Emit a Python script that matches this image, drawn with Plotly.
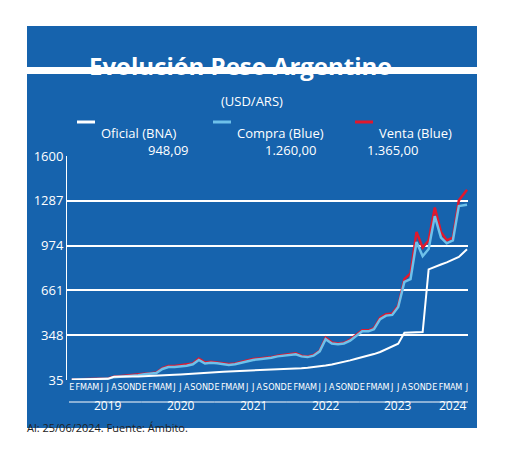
import plotly.graph_objects as go

# Monthly values (USD/ARS), Jan 2019 .. Jun 2024
fechas = [f"{y}-{m:02d}-15" for y in range(2019, 2025) for m in range(1, 13)][:66]
fechas[-1] = "2024-06-25"

oficial = [38, 39, 43, 44, 45, 43, 43, 58, 57, 60, 60, 60,
           61, 62, 64, 67, 69, 71, 73, 75, 77, 80, 83, 85,
           89, 92, 95, 97, 98, 100, 101, 102, 103, 104, 106, 108,
           110, 113, 117, 121, 125, 131, 137, 144, 152, 162, 172, 183,
           193, 204, 216, 231, 249, 269, 289, 365, 365, 365, 370, 808,
           827, 842, 857, 876, 895, 948]
compra = [37, 38, 41, 43, 44, 42, 43, 55, 58, 63, 63, 68,
          75, 78, 84, 112, 125, 126, 131, 134, 145, 175, 150, 155,
          152, 146, 140, 145, 155, 165, 175, 180, 183, 190, 200, 205,
          208, 215, 200, 195, 205, 235, 320, 290, 285, 290, 310, 340,
          375, 375, 390, 460, 485, 490, 545, 720, 740, 1000, 900, 950,
          1180, 1030, 990, 1010, 1250, 1260]
venta = [39, 40, 43, 45, 46, 44, 45, 58, 61, 67, 67, 72,
         78, 82, 88, 118, 132, 133, 138, 141, 150, 185, 158, 163,
         158, 152, 146, 150, 160, 170, 182, 186, 188, 195, 205, 210,
         215, 222, 205, 200, 210, 240, 330, 298, 290, 295, 318, 348,
         382, 382, 397, 470, 495, 500, 555, 740, 780, 1070, 960, 1010,
         1240, 1070, 1010, 1030, 1290, 1365]

meses = list("EFMAMJJASOND") * 5 + list("EFMAMJ")
anios = ["2019", "2020", "2021", "2022", "2023", "2024"]
yticks = [35, 348, 661, 974, 1287, 1600]

AZUL = "#1663ad"
fig = go.Figure()
fig.add_trace(go.Scatter(x=fechas, y=venta, mode="lines", line=dict(color="#e0182d", width=2.5)))
fig.add_trace(go.Scatter(x=fechas, y=compra, mode="lines", line=dict(color="#6ec1ea", width=2.5)))
fig.add_trace(go.Scatter(x=fechas, y=oficial, mode="lines", line=dict(color="white", width=2)))

# page body adds an 8px offset; positions below are in reference-image pixels
OFF = 8
W, H, L, T = 401, 224, 67 - OFF, 156 - OFF
px = lambda x: (x - OFF - L) / W
py = lambda y: (T + H - (y - OFF)) / H

shapes = [
    dict(type="rect", xref="paper", yref="paper", x0=px(27), x1=px(477), y0=py(67), y1=py(26),
         fillcolor=AZUL, line_width=0, layer="below"),
    dict(type="rect", xref="paper", yref="paper", x0=px(27), x1=px(477), y0=py(428), y1=py(74),
         fillcolor=AZUL, line_width=0, layer="below"),
]
annotations = [
    dict(text="<b>Evolución Peso Argentino</b>", x=px(240), y=py(47), font=dict(size=24, color="white")),
    dict(text="(USD/ARS)", x=px(252), y=py(90), font=dict(size=13, color="white")),
    dict(text="Al: 25/06/2024. Fuente: Ámbito.", x=px(25), y=py(437), xanchor="left",
         font=dict(size=11, color="#222")),
]
legend = [("Oficial (BNA)", "948,09", "white", 77, 146),
          ("Compra (Blue)", "1.260,00", "#6ec1ea", 213, 290),
          ("Venta (Blue)", "1.365,00", "#e0182d", 355, 420)]
for name, val, col, x0, xc in legend:
    shapes.append(dict(type="line", xref="paper", yref="paper", x0=px(x0), x1=px(x0 + 18),
                       y0=py(122), y1=py(122), line=dict(color=col, width=3)))
    annotations.append(dict(text=name, x=px(x0 + 22), y=py(122), xanchor="left",
                            font=dict(size=13, color="white")))
    annotations.append(dict(text=val, x=px(xc), y=py(139), font=dict(size=13, color="white")))

# year underlines and labels
bounds = ["2019-01-01", "2020-01-01", "2021-01-01", "2022-01-01", "2023-01-01", "2024-01-01", "2024-06-30"]
for i, a in enumerate(anios):
    shapes.append(dict(type="line", xref="x", yref="paper", x0=bounds[i], x1=bounds[i + 1],
                       y0=py(402), y1=py(402), line=dict(color="white", width=1)))
    annotations.append(dict(text=a, xref="x", x=fechas[min(i * 12 + 6, 63)], y=py(416),
                            font=dict(size=12, color="white")))
for a in annotations:
    a.setdefault("xref", "paper")
    a.setdefault("yref", "paper")
    a.setdefault("showarrow", False)

fig.update_layout(
    width=520, height=468, margin=dict(l=L, r=520 - L - W, t=T, b=468 - T - H),
    paper_bgcolor="white", plot_bgcolor=AZUL, showlegend=False,
    shapes=shapes, annotations=annotations,
    font=dict(family="Open Sans"),
    xaxis=dict(range=["2018-12-22", "2024-06-30"], tickvals=fechas, ticktext=meses, tickangle=0,
               showgrid=False, tickfont=dict(size=9, color="white", family="DejaVu Sans Condensed"),
               showline=False, zeroline=False),
    yaxis=dict(range=[35, 1600], tickvals=yticks, ticktext=[str(v) for v in yticks],
               gridcolor="white", gridwidth=1.5, showline=True, linecolor="white",
               tickfont=dict(size=13, color="white"), zeroline=False),
)
fig.write_html("out.html")
